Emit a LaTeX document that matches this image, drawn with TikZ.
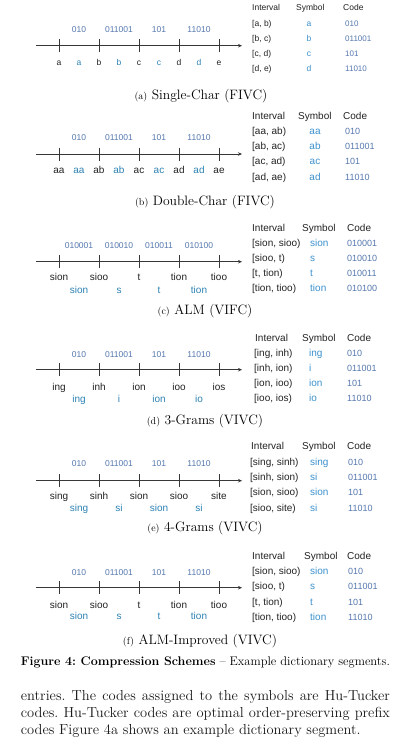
\documentclass[tikz,border=0pt]{standalone}
\usepackage{fontspec}
\newfontfamily\sansf{Liberation Sans}
\usetikzlibrary{arrows.meta}
\definecolor{codec}{RGB}{85,120,175}
\definecolor{symc}{RGB}{60,145,205}
\definecolor{lblc}{RGB}{45,130,180}
\definecolor{txtc}{RGB}{35,35,35}
\definecolor{axc}{RGB}{55,55,55}
\newcommand\axisblock[2]{%
  \coordinate (#1-s) at (36,#2); \coordinate (#1-e) at (242,#2);
  \draw[axisline] (#1-s) -- (#1-e);
  \foreach \x [count=\i] in {59,99,139,179,219} {\coordinate (#1-t\i) at (\x,#2);
    \draw[tickline] ([yshift=6.5pt]#1-t\i) -- ([yshift=-6.5pt]#1-t\i);}%
}
\newcommand\subl[1]{{\fontsize{10}{12}\selectfont(#1)}\ }
\frenchspacing
\begin{document}
\begin{tikzpicture}[x=1pt,y=-1pt,
 every node/.style={inner sep=0pt, text height=0.72em, text depth=0.2em},
 axisline/.style={draw=axc, line width=0.9pt, -{Stealth[length=4pt,width=3.5pt]}},
 tickline/.style={draw=axc, line width=0.9pt},
 code/.style={font=\sansf\fontsize{8.5}{10}\selectfont, text=codec},
 lbl/.style={font=\sansf\fontsize{10}{12}\selectfont, text=txtc},
 blbl/.style={font=\sansf\fontsize{10}{12}\selectfont, text=lblc},
 thead/.style={font=\sansf\fontsize{10}{12}\selectfont, text=txtc, anchor=west},
 tint/.style={font=\sansf\fontsize{10}{12}\selectfont, text=txtc, anchor=west},
 tsym/.style={font=\sansf\fontsize{10}{12}\selectfont, text=symc, anchor=west},
 tcode/.style={font=\sansf\fontsize{9}{11}\selectfont, text=codec, anchor=west},
 subcap/.style={font=\fontsize{13.6}{16}\selectfont, text=black},
 body/.style={font=\fontsize{14.5}{17}\selectfont, text=black!90, anchor=west},
]
\useasboundingbox (0,0) rectangle (397,750);
\fill[white] (0,0) rectangle (397,750);

% ---------- (a)
\begin{scope}[lbl/.append style={font=\sansf\fontsize{8.5}{10}\selectfont},
  blbl/.append style={font=\sansf\fontsize{8.5}{10}\selectfont},
  thead/.append style={font=\sansf\fontsize{8.5}{10}\selectfont},
  tint/.append style={font=\sansf\fontsize{8.5}{10}\selectfont},
  tsym/.append style={font=\sansf\fontsize{8.5}{10}\selectfont},
  tcode/.append style={font=\sansf\fontsize{8}{10}\selectfont}]
\axisblock{a}{45.7}
\foreach \cd [count=\i] in {010,011001,101,11010} \node[code] (a-c\i) at ({39+40*\i},29.7) {\cd};
\foreach \t [count=\i] in {a,b,c,d,e} \node[lbl] (a-l\i) at ({19+40*\i},62.7) {\t};
\foreach \t [count=\i] in {a,b,c,d} \node[blbl] (a-m\i) at ({39+40*\i},62.7) {\t};
\node[thead] (a-h1) at (252,8.3) {Interval};
\node[thead] (a-h2) at (296,8.3) {Symbol};
\node[thead] (a-h3) at (343,8.3) {Code};
\foreach \iv/\sy/\cd [count=\i] in {{[a, b)}/a/010,{[b, c)}/b/011001,{[c, d)}/c/101,{[d, e)}/d/11010} {
  \node[tint] (a-r\i) at (252,{8.3+15.2*\i}) {\iv};
  \node[tsym,anchor=center] (a-y\i) at (309,{8.3+15.2*\i}) {\sy};
  \node[tcode] (a-k\i) at (345,{8.3+15.2*\i}) {\cd};
}
\end{scope}
\node[subcap] (a-cap) at (201,96.7) {\subl{a}Single-Char (FIVC)};

% ---------- (b)
\axisblock{b}{154}
\foreach \cd [count=\i] in {010,011001,101,11010} \node[code] (b-c\i) at ({39+40*\i},138.3) {\cd};
\foreach \t [count=\i] in {aa,ab,ac,ad,ae} \node[lbl] (b-l\i) at ({19+40*\i},170.7) {\t};
\foreach \t [count=\i] in {aa,ab,ac,ad} \node[blbl] (b-m\i) at ({39+40*\i},170.7) {\t};
\node[thead] (b-h1) at (252,116.7) {Interval};
\node[thead] (b-h2) at (298,116.7) {Symbol};
\node[thead] (b-h3) at (343,116.7) {Code};
\foreach \iv/\sy/\cd [count=\i] in {{[aa, ab)}/aa/010,{[ab, ac)}/ab/011001,{[ac, ad)}/ac/101,{[ad, ae)}/ad/11010} {
  \node[tint] (b-r\i) at (252,{116.7+15.2*\i}) {\iv};
  \node[tsym,anchor=center] (b-y\i) at (315,{116.7+15.2*\i}) {\sy};
  \node[tcode] (b-k\i) at (345,{116.7+15.2*\i}) {\cd};
}
\node[subcap] (b-cap) at (205,203.3) {\subl{b}Double-Char (FIVC)};

% ---------- (c)
\axisblock{c}{261.7}
\foreach \cd [count=\i] in {010001,010010,010011,010100} \node[code] (c-c\i) at ({39+40*\i},245.5) {\cd};
\foreach \t [count=\i] in {sion,sioo,t,tion,tioo} \node[lbl] (c-l\i) at ({19+40*\i},277.7) {\t};
\foreach \t [count=\i] in {sion,s,t,tion} \node[blbl] (c-m\i) at ({39+40*\i},291) {\t};
\node[thead] (c-h1) at (252,229.3) {Interval};
\node[thead] (c-h2) at (302,229.3) {Symbol};
\node[thead] (c-h3) at (347,229.3) {Code};
\foreach \iv/\sy/\cd [count=\i] in {{[sion, sioo)}/sion/010001,{[sioo, t)}/s/010010,{[t, tion)}/t/010011,{[tion, tioo)}/tion/010100} {
  \node[tint] (c-r\i) at (252,{229.3+15*\i}) {\iv};
  \node[tsym] (c-y\i) at (310,{229.3+15*\i}) {\sy};
  \node[tcode] (c-k\i) at (347,{229.3+15*\i}) {\cd};
}
\node[subcap] (c-cap) at (205,311.7) {\subl{c}ALM (VIFC)};

% ---------- (d)
\axisblock{d}{369.7}
\foreach \cd [count=\i] in {010,011001,101,11010} \node[code] (d-c\i) at ({39+40*\i},355) {\cd};
\foreach \t [count=\i] in {ing,inh,ion,ioo,ios} \node[lbl] (d-l\i) at ({19+40*\i},388.3) {\t};
\foreach \t [count=\i] in {ing,i,ion,io} \node[blbl] (d-m\i) at ({39+40*\i},400) {\t};
\node[thead] (d-h1) at (255,339) {Interval};
\node[thead] (d-h2) at (302,339) {Symbol};
\node[thead] (d-h3) at (347,339) {Code};
\foreach \iv/\sy/\cd [count=\i] in {{[ing, inh)}/ing/010,{[inh, ion)}/i/011001,{[ion, ioo)}/ion/101,{[ioo, ios)}/io/11010} {
  \node[tint] (d-r\i) at (254,{339+15*\i}) {\iv};
  \node[tsym] (d-y\i) at (309,{339+15*\i}) {\sy};
  \node[tcode] (d-k\i) at (347,{339+15*\i}) {\cd};
}
\node[subcap] (d-cap) at (205,422.3) {\subl{d}3-Grams (VIVC)};

% ---------- (e)
\axisblock{e}{480.7}
\foreach \cd [count=\i] in {010,011001,101,11010} \node[code] (e-c\i) at ({39+40*\i},463.8) {\cd};
\foreach \t [count=\i] in {sing,sinh,sion,sioo,site} \node[lbl] (e-l\i) at ({19+40*\i},496.7) {\t};
\foreach \t [count=\i] in {sing,si,sion,si} \node[blbl] (e-m\i) at ({39+40*\i},509) {\t};
\node[thead] (e-h1) at (251,447.3) {Interval};
\node[thead] (e-h2) at (302,447.3) {Symbol};
\node[thead] (e-h3) at (347,447.3) {Code};
\foreach \iv/\sy/\cd [count=\i] in {{[sing, sinh)}/sing/010,{[sinh, sion)}/si/011001,{[sion, sioo)}/sion/101,{[sioo, site)}/si/11010} {
  \node[tint] (e-r\i) at (250,{447.3+15.3*\i}) {\iv};
  \node[tsym] (e-y\i) at (310,{447.3+15.3*\i}) {\sy};
  \node[tcode] (e-k\i) at (348,{447.3+15.3*\i}) {\cd};
}
\node[subcap] (e-cap) at (205,529.3) {\subl{e}4-Grams (VIVC)};

% ---------- (f)
\axisblock{f}{587.7}
\foreach \cd [count=\i] in {010,011001,101,11010} \node[code] (f-c\i) at ({39+40*\i},573.3) {\cd};
\foreach \t [count=\i] in {sion,sioo,t,tion,tioo} \node[lbl] (f-l\i) at ({19+40*\i},605.7) {\t};
\foreach \t [count=\i] in {sion,s,t,tion} \node[blbl] (f-m\i) at ({39+40*\i},617.3) {\t};
\node[thead] (f-h1) at (252,556.7) {Interval};
\node[thead] (f-h2) at (304,556.7) {Symbol};
\node[thead] (f-h3) at (347,556.7) {Code};
\foreach \iv/\sy/\cd [count=\i] in {{[sion, sioo)}/sion/010,{[sioo, t)}/s/011001,{[t, tion)}/t/101,{[tion, tioo)}/tion/11010} {
  \node[tint] (f-r\i) at (252,{556.7+15.3*\i}) {\iv};
  \node[tsym] (f-y\i) at (310,{556.7+15.3*\i}) {\sy};
  \node[tcode] (f-k\i) at (348,{556.7+15.3*\i}) {\cd};
}
\node[subcap] (f-cap) at (200,641.7) {\subl{f}ALM-Improved (VIVC)};

% ---------- caption and body
\node[anchor=west, font=\fontsize{12.5}{15}\selectfont] (figcap) at (20.7,663.3)
  {\makebox[369pt][s]{\textbf{Figure 4: Compression Schemes} -- Example dictionary segments.}};
\node[body] (p1) at (20.7,698.3) {\makebox[369pt][s]{entries. The codes assigned to the symbols are Hu-Tucker}};
\node[body] (p2) at (20.7,715) {\makebox[369pt][s]{codes. Hu-Tucker codes are optimal order-preserving prefix}};
\node[body] (p3) at (20.7,731.7) {codes Figure 4a shows an example dictionary segment.};
\end{tikzpicture}
\end{document}
